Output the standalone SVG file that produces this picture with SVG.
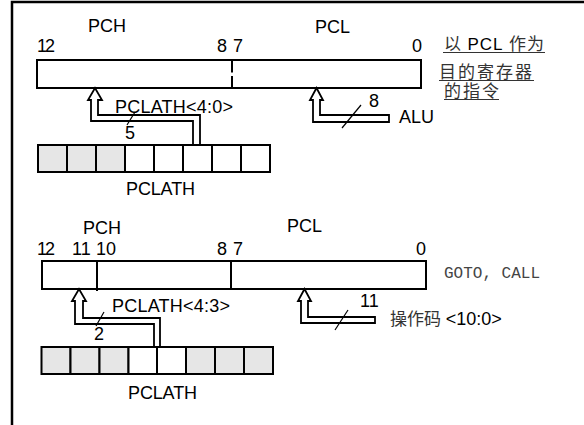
<svg xmlns="http://www.w3.org/2000/svg" width="584" height="425" viewBox="0 0 584 425">
<style>
.t{font-family:"Liberation Sans",Arial,sans-serif;font-size:18px;fill:#000}
.cj{font-family:"Liberation Sans","Noto Sans CJK SC",sans-serif;font-size:17px;fill:#333}
.mono{font-family:"Liberation Mono","Courier New",monospace;font-size:16px;fill:#444}
.reg{fill:#fff;stroke:#000;stroke-width:2}
.sh{fill:#e6e6e6;stroke:#000;stroke-width:2}
.wc{fill:#fff;stroke:#000;stroke-width:2}
.bus{fill:none;stroke:#000;stroke-width:1.8;stroke-linejoin:miter}
.sl{stroke:#000;stroke-width:1.2}
.ul{stroke:#333;stroke-width:1.2}
</style>
<rect width="584" height="425" fill="#fff"/>
<g id="frame"><path d="M12,425 V2 H584" fill="none" stroke="#000" stroke-width="2.5"/></g>

<g id="pc-top">
<rect class="reg" x="37" y="60" width="384" height="28"/>
<line x1="232" y1="60" x2="232" y2="72.5" stroke="#000" stroke-width="2"/>
<line x1="232" y1="76" x2="232" y2="88" stroke="#000" stroke-width="2"/>
<text class="t" x="88" y="32">PCH</text>
<text class="t" x="315" y="33">PCL</text>
<text class="t" x="37" y="52" textLength="18">12</text>
<text class="t" x="217" y="52" textLength="26">8 7</text>
<text class="t" x="412" y="52">0</text>
</g>

<g id="note-top">
<text class="cj" x="444" y="50" textLength="100" lengthAdjust="spacing">以 <tspan fill="#000" font-family="Liberation Sans">PCL</tspan> 作为</text>
<line class="ul" x1="443" y1="52.5" x2="545" y2="52.5"/>
<text class="cj" x="439" y="78" textLength="93" lengthAdjust="spacing">目的寄存器</text>
<line class="ul" x1="439" y1="80.5" x2="534" y2="80.5"/>
<text class="cj" x="444" y="97" textLength="55" lengthAdjust="spacing">的指令</text>
<line class="ul" x1="444" y1="99.5" x2="499" y2="99.5"/>
</g>

<g id="pclath-top">
<rect class="sh" x="38" y="145" width="29" height="27"/>
<rect class="sh" x="67" y="145" width="29" height="27"/>
<rect class="sh" x="96" y="145" width="29" height="27"/>
<rect class="wc" x="125" y="145" width="29" height="27"/>
<rect class="wc" x="154" y="145" width="29" height="27"/>
<rect class="wc" x="183" y="145" width="29" height="27"/>
<rect class="wc" x="212" y="145" width="29" height="27"/>
<rect class="wc" x="241" y="145" width="29" height="27"/>
<text class="t" x="126" y="195" textLength="69">PCLATH</text>
</g>

<g id="alu"><text class="t" x="399" y="123">ALU</text></g>

<g id="pc-bottom">
<rect class="reg" x="42" y="261" width="384" height="28"/>
<line x1="97" y1="261" x2="97" y2="291" stroke="#000" stroke-width="2"/>
<line x1="231" y1="261" x2="231" y2="289" stroke="#000" stroke-width="2"/>
<text class="t" x="83" y="234">PCH</text>
<text class="t" x="287" y="232">PCL</text>
<text class="t" x="37" y="255" textLength="18">12</text>
<text class="t" x="72" y="255">11</text>
<text class="t" x="96" y="255">10</text>
<text class="t" x="217" y="255" textLength="26">8 7</text>
<text class="t" x="416" y="255">0</text>
<text class="mono" x="444" y="278">GOTO, CALL</text>
</g>

<g id="pclath-bottom">
<rect class="sh" x="41.5" y="347" width="29" height="27"/>
<rect class="sh" x="70.5" y="347" width="29" height="27"/>
<rect class="sh" x="99.5" y="347" width="29" height="27"/>
<rect class="wc" x="128.5" y="347" width="28.5" height="27"/>
<rect class="wc" x="157" y="347" width="29" height="27"/>
<rect class="sh" x="186" y="347" width="29" height="27"/>
<rect class="sh" x="215" y="347" width="29" height="27"/>
<rect class="sh" x="244" y="347" width="29" height="27"/>
<text class="t" x="128" y="399" textLength="69">PCLATH</text>
</g>

<g id="opcode"><text class="cj" x="390" y="325">操作码 <tspan fill="#000" font-family="Liberation Sans" font-size="18">&lt;10:0&gt;</tspan></text></g>

<g id="connectors">
<path class="bus" d="M193,145 V121 H91 V100 H88 L95,88 L102,100 H98 V115 H200 V145"/>
<line class="sl" x1="135" y1="112" x2="127" y2="125"/>
<text class="t" x="115" y="113" textLength="118">PCLATH&lt;4:0&gt;</text>
<text class="t" x="125" y="139">5</text>

<path class="bus" d="M389,115 H320 V100 H323 L316.5,88 L310,100 H313 V122 H389 Z"/>
<line class="sl" x1="361" y1="105" x2="342" y2="128"/>
<text class="t" x="369" y="107">8</text>

<path class="bus" d="M154,347 V324 H75 V301 H72 L79,289 L86,301 H83 V318 H160 V347"/>
<line class="sl" x1="104" y1="312" x2="96" y2="326"/>
<text class="t" x="112" y="312" textLength="118">PCLATH&lt;4:3&gt;</text>
<text class="t" x="94" y="340">2</text>

<path class="bus" d="M375,317 H308 V301 H311 L304.5,289 L298,301 H301 V323 H375 Z"/>
<line class="sl" x1="348" y1="310" x2="335" y2="330"/>
<text class="t" x="360" y="307">11</text>
</g>
</svg>
